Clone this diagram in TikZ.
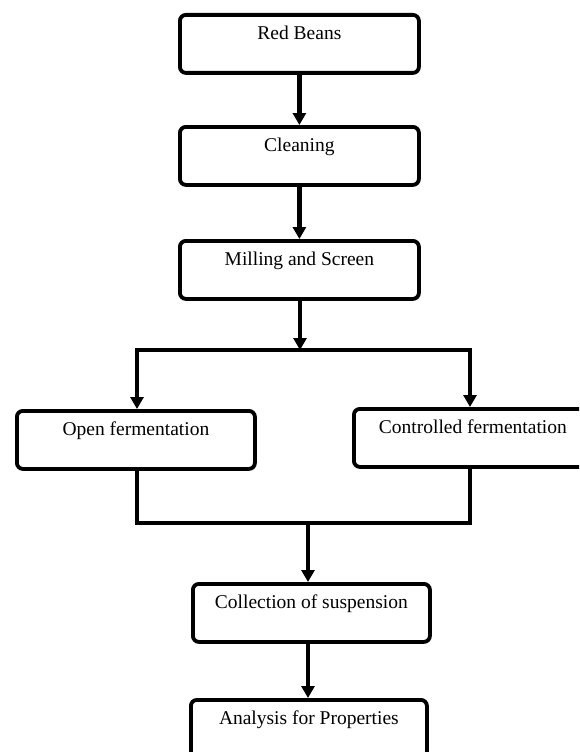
\documentclass[tikz,border=0pt]{standalone}
\usepackage{fontspec}
\setmainfont{Liberation Serif}
\usetikzlibrary{arrows.meta}
\begin{document}
\begin{tikzpicture}[x=1pt,y=-1pt,
  box/.style={draw, line width=3.8pt, rounded corners=6pt, anchor=north west,
    minimum width=239pt, inner sep=0pt, text height=25pt, text depth=33pt,
    font=\fontsize{19.5}{22}\selectfont},
  flow/.style={line width=4.6pt, line cap=rect, -{Triangle[width=13pt,length=12pt]}},
  link/.style={line width=3.6pt, line cap=rect}]
\useasboundingbox (0,0) rectangle (579,752);
\clip (0,0) rectangle (579,752);

\node[box] (b1) at (178,13) {Red Beans};
\node[box] (b2) at (178,125) {Cleaning};
\node[box] (b3) at (178,239) {Milling and Screen};
\node[box, minimum width=238pt] (b4) at (15,409) {Open fermentation};
\node[box, minimum width=238pt] (b5) at (352,407) {Controlled fermentation};
\node[box, minimum width=237pt] (b6) at (191,582) {Collection of suspension};
\node[box, minimum width=236pt] (b7) at (189,698) {Analysis for Properties};

\coordinate (s1) at (300,350);
\coordinate (sl) at (137,350);
\coordinate (sr) at (470,350);
\coordinate (m1) at (308,523);
\coordinate (ml) at (137,523);
\coordinate (mr) at (470,523);

\draw[flow] (b1.south) -- (b2.north);
\draw[flow] (b2.south) -- (b3.north);
\draw[flow] (b3.south -| s1) -- (s1);
\draw[link] (sl) -- (sr);
\draw[flow] (sl) -- (sl |- b4.north);
\draw[flow] (sr) -- (sr |- b5.north);
\draw[link] (ml |- b4.south) -- (ml) -- (mr) -- (mr |- b5.south);
\draw[flow] (m1) -- (m1 |- b6.north);
\draw[flow] (m1 |- b6.south) -- (m1 |- b7.north);
\end{tikzpicture}
\end{document}
